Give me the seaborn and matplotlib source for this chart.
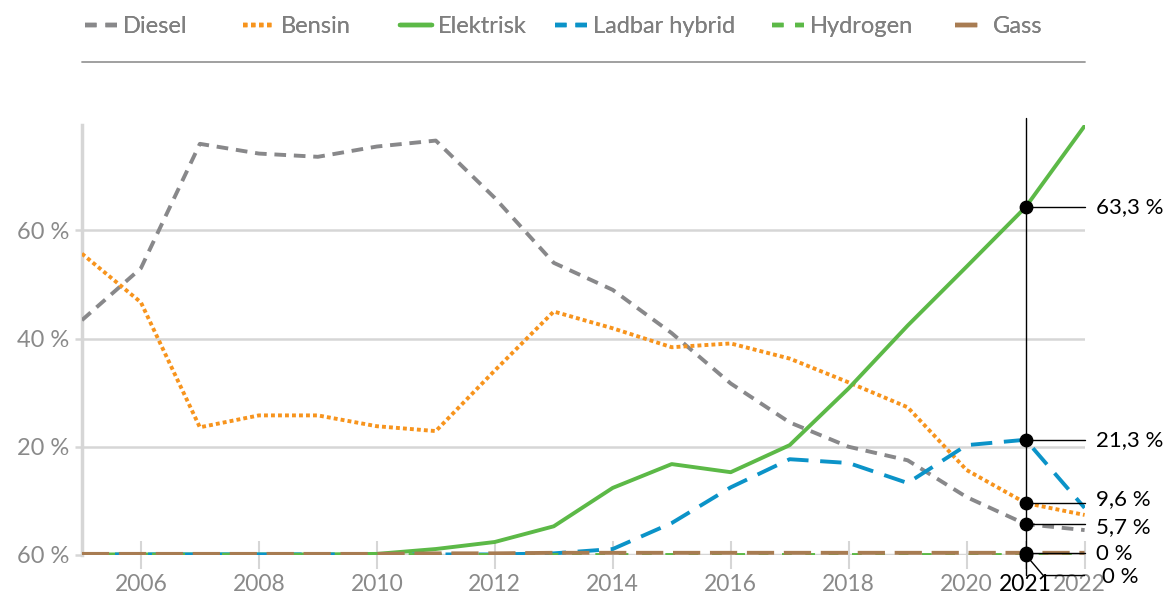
import numpy as np
import pandas as pd
import matplotlib
matplotlib.use("Agg")
import matplotlib.pyplot as plt
import matplotlib.transforms as mtransforms
import seaborn as sns
from matplotlib.lines import Line2D

years = list(range(2005, 2023))
diesel = [43.4, 53.0, 76.0, 74.2, 73.6, 75.5, 76.6, 66.0, 54.0, 49.0, 41.0, 31.7, 24.5, 20.0, 17.5, 10.7, 5.7, 4.6]
bensin = [55.7, 46.7, 23.6, 25.8, 25.8, 23.8, 22.9, 34.1, 45.0, 41.9, 38.4, 39.1, 36.3, 31.9, 27.3, 15.7, 9.6, 7.4]
elektrisk = [0.1, 0.1, 0.1, 0.1, 0.1, 0.2, 1.1, 2.4, 5.3, 12.4, 16.8, 15.3, 20.3, 30.8, 42.4, 53.3, 64.3, 79.3]
ladbar = [0.1, 0.1, 0.1, 0.1, 0.1, 0.1, 0.1, 0.1, 0.3, 1.1, 5.9, 12.5, 17.7, 17.0, 13.3, 20.3, 21.3, 8.7]
hydrogen = [0.05] * 18
gass = [0.2, 0.2, 0.2, 0.2, 0.2, 0.2, 0.3, 0.3, 0.4, 0.4, 0.4, 0.4, 0.4, 0.4, 0.4, 0.4, 0.4, 0.4]

series_names = ["Diesel", "Bensin", "Elektrisk", "Ladbar hybrid", "Hydrogen", "Gass"]
series_values = [diesel, bensin, elektrisk, ladbar, hydrogen, gass]
colors = ["#88888a", "#f7941d", "#5cb947", "#0b93c8", "#5cb947", "#a87c52"]
dash_styles = [(3, 2), (1, 0.8), "", (5.5, 3), (2.5, 3.5), (7, 2.5)]
legend_dashes = [(2.6, 2.0), (1, 0.8), "", (2.6, 2.0), (2.6, 2.6), (5.0, 2.6)]
legend_x = [0.0727, 0.2077, 0.3419, 0.4744, 0.6598, 0.8162]

ytick_vals = [0, 20, 40, 60]
ytick_labels = ["60 %", "20 %", "40 %", "60 %"]
xtick_vals = [2006, 2008, 2010, 2012, 2014, 2016, 2018, 2020, 2021, 2022]
xtick_labels = ["2006", "2008", "2010", "2012", "2014", "2016", "2018", "2020", "2021", "2022"]

hl_year = 2021
hl_values = [elektrisk[16], ladbar[16], bensin[16], diesel[16], gass[16], hydrogen[16]]
hl_labels = ["63,3 %", "21,3 %", "9,6 %", "5,7 %", "0 %", "0 %"]
hl_label_y = [64.3, 21.3, 10.4, 5.2, 0.2, -4.0]

rows = []
for name, vals in zip(series_names, series_values):
    for y, v in zip(years, vals):
        rows.append({"year": y, "value": v, "type": name})
df = pd.DataFrame(rows)

sns.set_theme(style="white")
plt.rcParams["font.family"] = ["Lato", "DejaVu Sans"]

fig = plt.figure(figsize=(11.7, 5.99), dpi=100)
ax = fig.add_axes([0.070, 0.0735, 0.857, 0.718])

sns.lineplot(data=df, x="year", y="value", hue="type", style="type",
             hue_order=series_names, style_order=series_names,
             palette=dict(zip(series_names, colors)),
             dashes=dict(zip(series_names, dash_styles)),
             linewidth=2.8, legend=False, ax=ax, zorder=3)

ax.set_xlim(2005, 2022)
ax.set_ylim(0, 79.5)
for v in [20, 40, 60]:
    ax.axhline(v, color="#d6d6d6", lw=1.8, zorder=1)
ax.axhline(0, color="#d6d6d6", lw=2.5, zorder=1)

for s in ["top", "right", "bottom"]:
    ax.spines[s].set_visible(False)
ax.spines["left"].set_color("#d6d6d6")
ax.spines["left"].set_linewidth(2.5)

ax.set_yticks(ytick_vals)
ax.set_yticklabels(ytick_labels)
ax.tick_params(axis="y", length=5, width=1.8, color="#d6d6d6", labelsize=17,
               labelcolor="#8a8a8a", pad=4, direction="out", left=True)
ax.set_xticks(xtick_vals)
ax.set_xticklabels(xtick_labels)
ax.tick_params(axis="x", length=20, width=1.5, color="#d6d6d6", labelsize=16.5,
               labelcolor="#8a8a8a", pad=4, direction="inout", bottom=True)
for lbl in ax.get_xticklabels():
    if lbl.get_text() == "2021":
        lbl.set_color("black")
    if lbl.get_text() == "2022":
        lbl.set_transform(lbl.get_transform() + mtransforms.ScaledTranslation(-5 / 100, 0, fig.dpi_scale_trans))
ax.set_xlabel("")
ax.set_ylabel("")

# highlight line at 2021
ax.plot([hl_year, hl_year], [-3.7, 80.8], color="black", lw=1.0, clip_on=False, zorder=5)
for i, (v, ly, txt) in enumerate(zip(hl_values, hl_label_y, hl_labels)):
    if ly < -1:
        ax.plot([hl_year, hl_year + 0.3, 2022], [v, ly + 0.2, ly + 0.2], color="black", lw=1.0,
                clip_on=False, zorder=5)
        tx = 2022.3
    else:
        ax.plot([hl_year, 2022], [v, v], color="black", lw=1.0, clip_on=False, zorder=5)
        tx = 2022.2
    ax.scatter([hl_year], [v], s=80, color="black", zorder=6, clip_on=False)
    ax.text(tx, ly, txt, fontsize=16, color="black", va="center", ha="left", clip_on=False)

# legend, one entry at a time
for name, c, d, lx in zip(series_names, colors, legend_dashes, legend_x):
    h = Line2D([0], [0], color=c, lw=3.2, linestyle=(0, d) if d else "-")
    leg = fig.legend([h], [name], loc="center left", bbox_to_anchor=(lx, 0.955),
                     frameon=False, fontsize=17, handlelength=1.35, handletextpad=0.25,
                     borderpad=0, borderaxespad=0)
    for t in leg.get_texts():
        t.set_color("#7f7f7f")
    fig.add_artist(leg)

fig.add_artist(Line2D([0.070, 0.927], [0.897, 0.897], color="#999999", lw=1.3))

fig.savefig("out.png", dpi=100)
